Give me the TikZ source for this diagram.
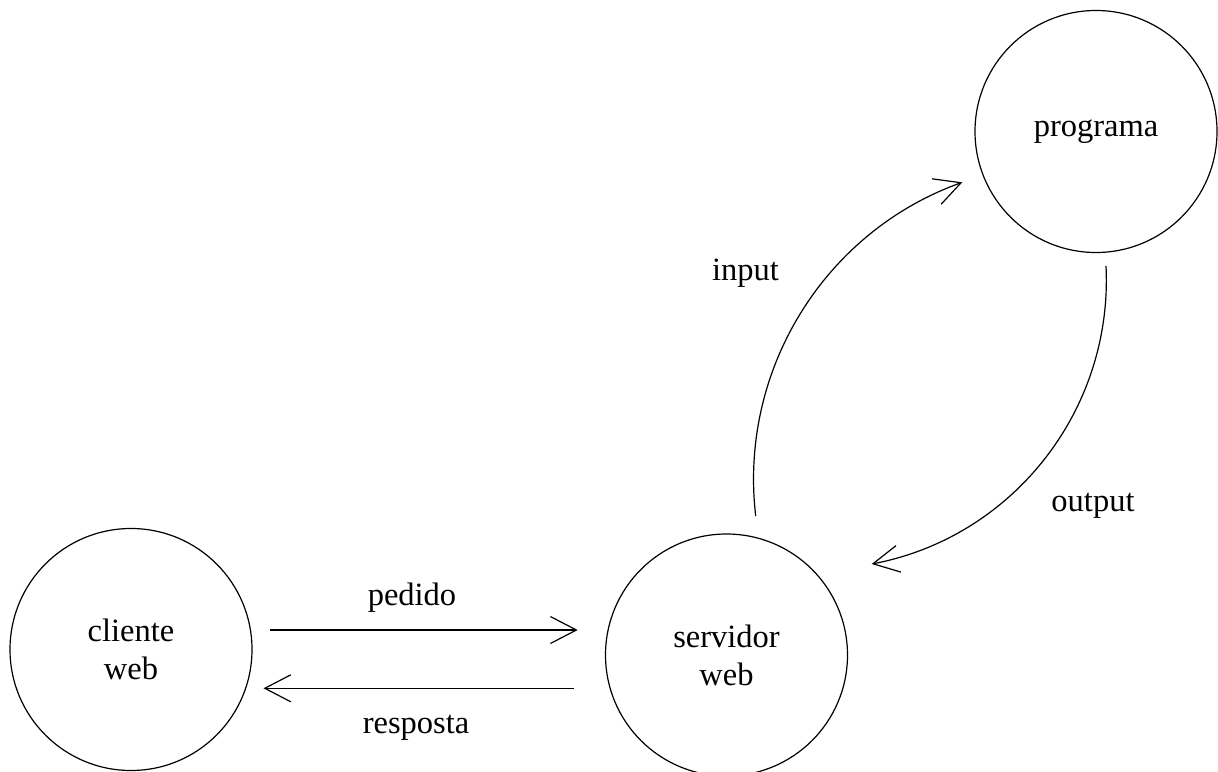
\documentclass[tikz,border=0pt]{standalone}
\usepackage{fontspec}
\setmainfont{Liberation Serif}
\usetikzlibrary{arrows.meta,calc}
\begin{document}
\begin{tikzpicture}[x=1pt,y=-1pt,
  state/.style={circle,draw,line width=1.2pt,minimum size=242pt,inner sep=0pt,
    align=center,font=\fontsize{32.5}{38}\selectfont},
  lbl/.style={anchor=base,inner sep=0pt,font=\fontsize{32.5}{38}\selectfont},
  conn/.style={line width=1.2pt,-{Straight Barb[length=26pt,width=27pt]}}]
\useasboundingbox (0,0) rectangle (1218,771);
\node[state] (cli) at (131,649.5) {cliente\\web};
\node[state] (serv) at (726.5,655) {servidor\\web};
\node[state] (prog) at (1096,131.5) {programa};
\draw[conn] ($(cli)+(139,-19.5)$) -- ($(serv)+(-148.8,-25)$);
\draw[conn] ($(serv)+(-152.5,33.3)$) -- ($(cli)+(132.5,38.8)$);
\draw[conn] ($(serv)+(29.2,-139)$) .. controls +(-17.1,-145.7) and +(-138.1,49.5) .. ($(prog)+(-133.7,50.8)$);
\draw[conn] ($(prog)+(10,134.5)$) .. controls +(7,143.8) and +(141.5,-27) .. ($(serv)+(145.2,-91)$);
\node[lbl] (lpedido) at (412,605) {pedido};
\node[lbl] (lresposta) at (416,733) {resposta};
\node[lbl] (linput) at (745.5,280.7) {input};
\node[lbl] (loutput) at (1093,511.7) {output};
\end{tikzpicture}
\end{document}
